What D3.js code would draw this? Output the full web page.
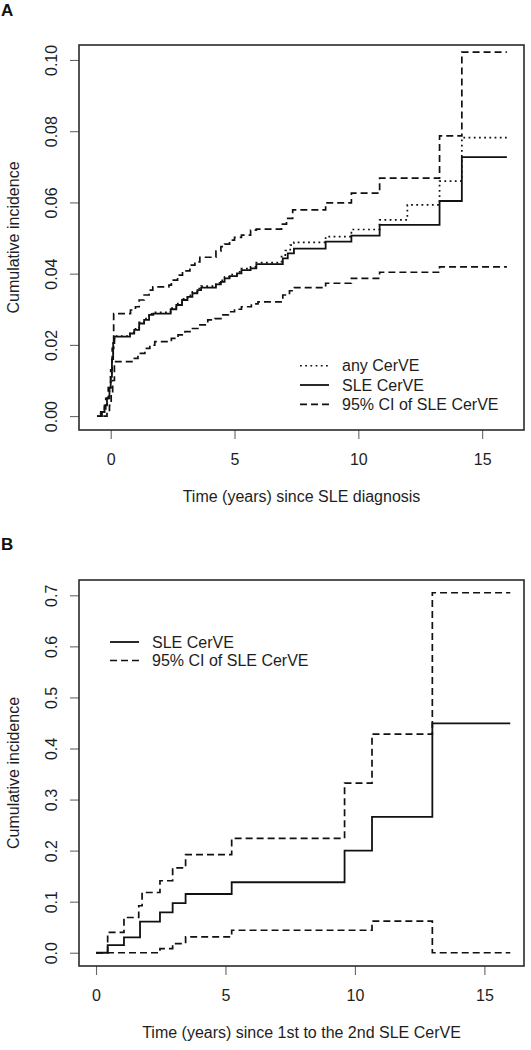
<!DOCTYPE html>
<html>
<head>
<meta charset="utf-8">
<script src="https://cdn.jsdelivr.net/npm/d3@7"></script>
<style>
html,body{margin:0;padding:0;background:#fff;}
svg{display:block;font-family:"Liberation Sans",Arial,Helvetica,sans-serif;}
</style>
</head>
<body>
<svg id="chart" width="531" height="1050"></svg>
<script>
// ---------------- Panel A data ----------------
const panelALabel = "A";
const xTicksA = [0, 5, 10, 15];
const yTicksA = [0, 0.02, 0.04, 0.06, 0.08, 0.10];
const yTickLabelsA = ["0.00", "0.02", "0.04", "0.06", "0.08", "0.10"];
const xTitleA = "Time (years) since SLE diagnosis";
const yTitle = "Cumulative incidence";
const legendA = ["any CerVE", "SLE CerVE", "95% CI of SLE CerVE"];

const anyTimeA = [-0.55,-0.4,-0.25,-0.15,-0.05,0,0.05,0.1,0.15,0.78,0.95,1.15,1.35,1.55,1.72,2.42,2.65,2.88,3.10,3.30,3.50,3.65,4.25,4.45,4.60,4.80,5.10,5.28,5.65,5.88,6.90,7.05,7.25,7.40,8.68,9.72,10.86,11.98,13.28,14.18,16.0];
const anyValA  = [0,0.0012,0.003,0.005,0.008,0.011,0.016,0.0205,0.0225,0.0235,0.0245,0.0263,0.0274,0.0287,0.0291,0.0303,0.0316,0.0329,0.0339,0.0349,0.0358,0.0365,0.0374,0.0381,0.0391,0.0397,0.0405,0.0414,0.0419,0.0431,0.0448,0.0465,0.0480,0.0488,0.0504,0.0524,0.0551,0.0593,0.0660,0.0782,0.0782];

const sleTimeA = [-0.55,-0.4,-0.25,-0.15,-0.05,0,0.05,0.1,0.15,0.78,0.95,1.15,1.35,1.55,1.72,2.42,2.65,2.88,3.10,3.30,3.50,3.65,4.25,4.45,4.60,4.80,5.10,5.28,5.65,5.88,6.95,7.15,7.40,8.68,9.72,10.86,13.28,14.18,16.0];
const sleValA  = [0,0.0012,0.003,0.005,0.008,0.011,0.016,0.0205,0.0223,0.0232,0.0242,0.0260,0.0270,0.0284,0.0288,0.0300,0.0312,0.0326,0.0335,0.0345,0.0354,0.0361,0.0370,0.0377,0.0387,0.0393,0.0401,0.0410,0.0415,0.0427,0.0443,0.0457,0.0470,0.0490,0.0507,0.0537,0.0604,0.0727,0.0727];

const upTimeA = [-0.45,-0.35,-0.2,-0.1,0,0.06,0.12,0.80,1.0,1.15,1.35,1.55,1.70,2.35,2.45,2.70,2.90,3.20,3.40,3.60,4.25,4.45,4.60,4.80,5.0,5.28,5.65,5.88,6.90,7.10,7.35,8.68,9.72,10.86,13.28,14.18,16.0];
const upValA  = [0,0.002,0.005,0.008,0.013,0.019,0.0288,0.0298,0.0307,0.0326,0.0340,0.0354,0.0363,0.0368,0.0382,0.0396,0.0408,0.0424,0.0433,0.0446,0.0463,0.0476,0.0483,0.0494,0.0502,0.0508,0.0522,0.0525,0.0539,0.0555,0.0579,0.0599,0.0626,0.0668,0.0787,0.1022,0.1022];

const loTimeA = [-0.3,-0.15,-0.05,0.02,0.08,0.15,0.90,1.10,1.38,1.58,1.78,2.45,2.72,3.0,3.25,3.52,3.92,4.20,4.45,4.75,5.0,5.28,5.68,5.95,6.95,7.22,7.42,8.68,9.72,10.86,13.28,16.0];
const loValA  = [0,0.001,0.003,0.006,0.010,0.0153,0.0162,0.0176,0.0190,0.0199,0.0209,0.0218,0.0228,0.0237,0.0246,0.0256,0.0270,0.0274,0.0284,0.0293,0.0300,0.0307,0.0315,0.0321,0.0340,0.0352,0.0361,0.0373,0.0387,0.0404,0.0419,0.0419];

// ---------------- Panel B data ----------------
const panelBLabel = "B";
const xTicksB = [0, 5, 10, 15];
const yTicksB = [0, 0.1, 0.2, 0.3, 0.4, 0.5, 0.6, 0.7];
const yTickLabelsB = ["0.0", "0.1", "0.2", "0.3", "0.4", "0.5", "0.6", "0.7"];
const xTitleB = "Time (years) since 1st to the 2nd SLE CerVE";
const legendB = ["SLE CerVE", "95% CI of SLE CerVE"];

const sleTimeB = [0,0.45,1.08,1.70,2.47,2.96,3.46,5.24,9.6,10.66,12.99,16];
const sleValB  = [0,0.015,0.030,0.061,0.079,0.097,0.115,0.138,0.200,0.266,0.449,0.449];
const upTimeB  = [0,0.45,1.08,1.65,1.78,2.47,2.96,3.46,5.24,9.6,10.66,12.99,16];
const upValB   = [0,0.040,0.069,0.092,0.118,0.141,0.166,0.192,0.224,0.332,0.428,0.705,0.705];
const loTimeB  = [0,2.47,2.96,3.46,5.24,10.66,12.99,16];
const loValB   = [0,0.008,0.018,0.031,0.044,0.062,0,0];

// ---------------- drawing ----------------
const svg = d3.select("#chart");
const ink = "#1e1e1e";
const dashStyle = "7,4";
const dotStyle = "1.8,3.4";

function zip(t, v){ return t.map((d,i)=>({t:d, v:v[i]})); }

function panel(cfg){
  const g = svg.append("g");
  const x = d3.scaleLinear().domain(cfg.xDomain).range([cfg.left, cfg.right]);
  const y = d3.scaleLinear().domain(cfg.yDomain).range([cfg.bottom, cfg.top]);

  // axes
  const xa = g.append("g").attr("transform", `translate(0,${cfg.bottom})`)
    .call(d3.axisBottom(x).tickValues(cfg.xTicks).tickSize(9).tickPadding(0).tickFormat(d3.format("d")));
  xa.select(".domain").remove();
  xa.selectAll("line").attr("stroke", "#666").attr("stroke-width", 1.1);
  xa.selectAll("text").attr("y", 35).attr("dy", null).attr("fill", ink).style("font-size", "16px");

  const ya = g.append("g").attr("transform", `translate(${cfg.left},0)`)
    .call(d3.axisLeft(y).tickValues(cfg.yTicks).tickSize(9).tickFormat((d,i)=>cfg.yLabels[i]));
  ya.select(".domain").remove();
  ya.selectAll("line").attr("stroke", "#666").attr("stroke-width", 1.1);
  ya.selectAll("text").attr("x", null).attr("dy", null)
    .attr("text-anchor", "middle")
    .attr("transform", "translate(-22,0) rotate(-90)")
    .attr("fill", ink).style("font-size", "16px");

  // box
  g.append("rect").attr("x", cfg.left).attr("y", cfg.top)
    .attr("width", cfg.right - cfg.left).attr("height", cfg.bottom - cfg.top)
    .attr("fill", "none").attr("stroke", "#2a2a2a").attr("stroke-width", 1.6);

  // titles
  g.append("text").attr("x", (cfg.left + cfg.right)/2).attr("y", cfg.bottom + 72)
    .attr("text-anchor", "middle").attr("fill", ink).style("font-size", "16px").text(cfg.xTitle);
  g.append("text").attr("transform", `translate(18.5,${(cfg.top + cfg.bottom)/2}) rotate(-90)`)
    .attr("text-anchor", "middle").attr("fill", ink).style("font-size", "16px").text(yTitle);
  g.append("text").attr("x", 1).attr("y", cfg.labelY).attr("fill", "#111")
    .style("font-size", "17px").style("font-weight", "bold").text(cfg.label);

  const line = d3.line().x(d=>x(d.t)).y(d=>y(d.v)).curve(d3.curveStepAfter);
  cfg.series.forEach(s=>{
    g.append("path").datum(s.data).attr("d", line)
      .attr("fill", "none").attr("stroke", "#111").attr("stroke-width", s.w)
      .attr("stroke-dasharray", s.dash);
  });

  // legend
  cfg.legend.forEach((l,i)=>{
    const ly = cfg.legY + i*cfg.legStep;
    g.append("line").attr("x1", cfg.legX).attr("x2", cfg.legX + 29)
      .attr("y1", ly).attr("y2", ly).attr("stroke", "#111").attr("stroke-width", l.w)
      .attr("stroke-dasharray", l.dash);
    g.append("text").attr("x", cfg.legX + 42).attr("y", ly + 5.5)
      .attr("fill", ink).style("font-size", "16px").text(l.text);
  });
}

panel({
  left: 79, right: 524, top: 45, bottom: 430,
  xDomain: [-1.28, 16.69], yDomain: [-0.0039, 0.1042],
  xTicks: xTicksA, yTicks: yTicksA, yLabels: yTickLabelsA,
  xTitle: xTitleA, label: panelALabel, labelY: 16,
  series: [
    {data: zip(anyTimeA, anyValA), dash: dotStyle, w: 1.7},
    {data: zip(upTimeA, upValA), dash: dashStyle, w: 1.7},
    {data: zip(loTimeA, loValA), dash: dashStyle, w: 1.7},
    {data: zip(sleTimeA, sleValA), dash: null, w: 1.8}
  ],
  legX: 300, legY: 365.7, legStep: 19.3,
  legend: [
    {text: legendA[0], dash: dotStyle, w: 1.5},
    {text: legendA[1], dash: null, w: 1.8},
    {text: legendA[2], dash: dashStyle, w: 1.7}
  ]
});

panel({
  left: 79, right: 524, top: 580, bottom: 966,
  xDomain: [-0.657, 16.53], yDomain: [-0.026, 0.730],
  xTicks: xTicksB, yTicks: yTicksB, yLabels: yTickLabelsB,
  xTitle: xTitleB, label: panelBLabel, labelY: 550,
  series: [
    {data: zip(upTimeB, upValB), dash: dashStyle, w: 1.7},
    {data: zip(loTimeB, loValB), dash: dashStyle, w: 1.7},
    {data: zip(sleTimeB, sleValB), dash: null, w: 1.8}
  ],
  legX: 110, legY: 642, legStep: 18.5,
  legend: [
    {text: legendB[0], dash: null, w: 1.8},
    {text: legendB[1], dash: dashStyle, w: 1.7}
  ]
});
</script>
</body>
</html>
